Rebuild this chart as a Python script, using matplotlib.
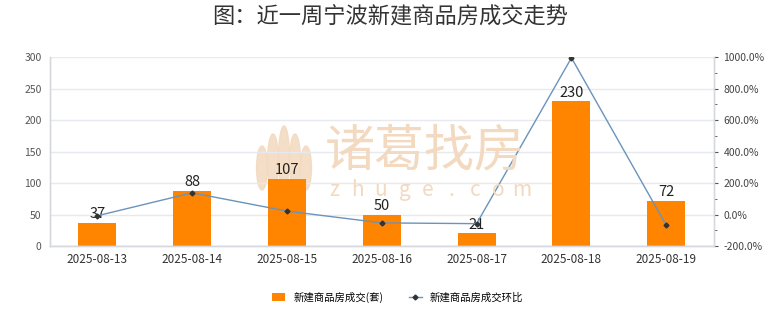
import matplotlib.pyplot as plt
from matplotlib.patches import Ellipse
from matplotlib.ticker import FuncFormatter, MultipleLocator

plt.rcParams['font.family'] = ['Noto Sans CJK SC', 'DejaVu Sans']

# data
dates = ['2025-08-13', '2025-08-14', '2025-08-15', '2025-08-16',
         '2025-08-17', '2025-08-18', '2025-08-19']
deals = [37, 88, 107, 50, 21, 230, 72]
mom_pct = [-8.0, 137.8, 21.6, -53.3, -58.0, 995.2, -68.7]

bar_color = '#ff8400'
line_color = '#6a93bd'
grid_color = '#e6e9ee'

fig = plt.figure(figsize=(7.8, 3.28), dpi=100)
ax = fig.add_axes([0.064, 0.25, 0.851, 0.576])
ax2 = ax.twinx()

x = list(range(len(dates)))

# watermark (logo petals + text), pixel coords from top-left
wm = '#f3d9bf'
for cx, h in [(262, 44), (273, 56), (284, 64), (295, 56), (306, 44)]:
    ax.add_patch(Ellipse((cx, 328 - (190 - h / 2)), 11, h,
                         transform=None, color=wm, alpha=0.85, zorder=0.5))
fig.text(425 / 780, 1 - 152 / 328, '诸葛找房', fontsize=36, color=wm,
         ha='center', va='center', zorder=0.5)
for i, ch in enumerate('zhuge.com'):
    fig.text((334 + i * 23.5) / 780, 1 - 190 / 328, ch, fontsize=15,
             color=wm, ha='center', va='center', zorder=0.5)

bars = ax.bar(x, deals, width=0.4, color=bar_color, zorder=2,
              label='新建商品房成交(套)')
for xi, v in zip(x, deals):
    ax.text(xi, v + 2, str(v), ha='center', va='bottom', fontsize=10.5,
            color='#222222', zorder=5)

ax.set_ylim(0, 300)
ax.set_xlim(-0.5, len(dates) - 0.5)
ax.set_yticks(range(0, 301, 50))
ax.set_xticks(x)
ax.set_xticklabels(dates, fontsize=8.5, color='#333333')
ax.tick_params(axis='y', labelsize=7.5, colors='#555555', length=0, pad=6)
ax.tick_params(axis='x', length=0, pad=5)
ax.grid(axis='y', color=grid_color, linewidth=1, zorder=0)
ax.set_axisbelow(True)

line, = ax2.plot(x, mom_pct, color=line_color, linewidth=1, marker='D',
                 markersize=2.5, markerfacecolor='#333333',
                 markeredgecolor='#333333', zorder=4, label='新建商品房成交环比')
ax2.set_ylim(-200, 1000)
ax2.set_yticks(range(-200, 1001, 200))
ax2.yaxis.set_minor_locator(MultipleLocator(100))
ax2.yaxis.set_major_formatter(FuncFormatter(lambda v, p: f'{v:.1f}%'))
ax2.tick_params(axis='y', which='major', labelsize=7.5, colors='#555555',
                length=3, pad=4)
ax2.tick_params(axis='y', which='minor', length=2, colors='#555555')
for lbl in ax2.get_yticklabels():
    lbl.set_color('#444444')

for a in (ax, ax2):
    a.spines['top'].set_visible(False)
    for s in ('left', 'right', 'bottom'):
        a.spines[s].set_color('#d5d9de')
        a.spines[s].set_linewidth(1)

ax.set_zorder(ax2.get_zorder() - 1)
ax.patch.set_visible(True)
ax2.patch.set_visible(False)

fig.text(0.5, 1 - 17 / 328, '图：近一周宁波新建商品房成交走势', fontsize=16,
         color='#333333', ha='center', va='center')

fig.legend([bars, line], ['新建商品房成交(套)', '新建商品房成交环比'],
           loc='center', bbox_to_anchor=(0.51, 1 - 297 / 328), ncol=2,
           frameon=False, fontsize=7.5, handlelength=1.2, handleheight=0.8,
           columnspacing=2.5, handletextpad=0.8)

fig.savefig('out.png', dpi=100)
